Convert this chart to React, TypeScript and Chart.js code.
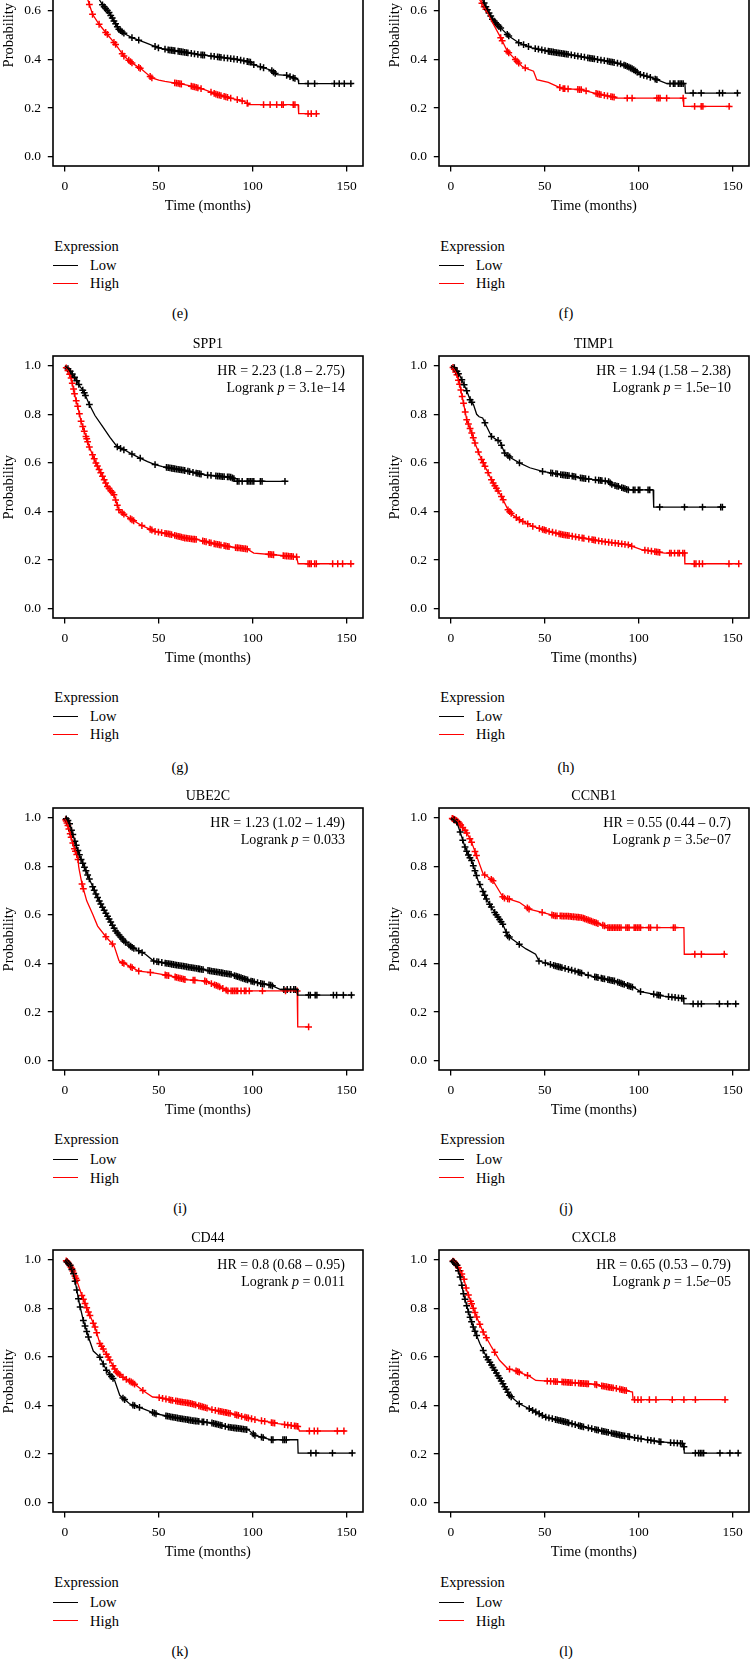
import React, { useEffect, useRef } from 'react';
import { Chart, registerables } from 'chart.js';
Chart.register(...registerables);

const FONT = '"Liberation Serif", "Times New Roman", Times, serif';
const RED = '#ff0000';
const BLACK = '#000000';

// axis ticks
const X_TICKS = [0, 50, 100, 150];
const Y_TICKS = [0, 0.2, 0.4, 0.6, 0.8, 1.0];
const X_TITLE = 'Time (months)';
const Y_TITLE = 'Probability';
const LEGEND_TITLE = 'Expression';
const LEGEND_LABELS = ['Low', 'High'];

// ---- panel (e) ----
const E_LOW_T = [0, 3, 6, 9, 12, 15, 18.2, 20, 23.5, 26, 28.7, 32, 35.7, 42.8, 49.8, 55, 60.3, 70.8, 78, 84.8, 92, 98.8, 100, 105.8, 110, 112.8, 118, 124.2, 124.5, 153.5];
const E_LOW_S = [1, 0.96, 0.9, 0.83, 0.76, 0.7, 0.648, 0.625, 0.593, 0.56, 0.524, 0.505, 0.49, 0.469, 0.448, 0.44, 0.434, 0.421, 0.414, 0.407, 0.4, 0.389, 0.38, 0.366, 0.355, 0.338, 0.335, 0.317, 0.301, 0.301];
const E_LOW_C = [20, 20.9, 21.7, 22.6, 23.5, 24.4, 25.2, 26.1, 27, 27.9, 28.7, 29.6, 30.5, 31.4, 35.7, 39.3, 48, 49.8, 53.3, 55, 55.9, 56.8, 57.6, 58.5, 60.3, 61.2, 62, 62.9, 63.8, 64.7, 65.5, 67.3, 69, 70.8, 72.5, 73.4, 74.3, 77.8, 79.5, 81.3, 82.2, 83.1, 84.8, 86.6, 88.3, 90, 91.8, 93.6, 95.3, 97.1, 98, 98.8, 100.6, 104.1, 105.8, 110.2, 111.1, 112, 118.1, 119.9, 121.6, 122.5, 129.5, 133, 143.5, 146.1, 148.8, 152.3];
const E_HIGH_T = [0, 2, 4, 6, 8, 10, 12.1, 14.7, 18.2, 22.6, 27, 31.4, 35.7, 41, 46.3, 50, 53.3, 63.8, 70, 74.3, 81.3, 88.3, 95.3, 97.1, 97.5, 124.2, 124.5, 134.7];
const E_HIGH_S = [1, 0.96, 0.91, 0.85, 0.78, 0.71, 0.648, 0.586, 0.545, 0.503, 0.462, 0.414, 0.386, 0.359, 0.324, 0.315, 0.31, 0.297, 0.285, 0.276, 0.255, 0.241, 0.228, 0.22, 0.214, 0.214, 0.177, 0.177];
const E_HIGH_C = [13, 14.7, 18.2, 21.7, 22.6, 26.1, 27, 30.5, 31.4, 34, 34.9, 35.7, 39.3, 40.1, 45.4, 46.3, 58.5, 59.4, 60.3, 61.2, 62, 67.3, 68.2, 69, 69.9, 70.8, 72.5, 77.8, 79.5, 80.4, 81.3, 82.2, 83.1, 84.8, 85.7, 86.6, 88.3, 91.8, 94.4, 97.1, 105.8, 109.3, 112.8, 115.5, 116.3, 121.6, 122.5, 129.5, 131.2, 133.9];

// ---- panel (f) ----
const F_LOW_T = [0, 3, 6, 9, 12, 15, 16.8, 19, 22.1, 25, 27.3, 30.8, 36.1, 43.1, 51.9, 62.4, 72.9, 83.4, 90, 93.9, 97, 101, 105, 109.7, 115, 124.6, 124.9, 153.5];
const F_LOW_S = [1, 0.96, 0.9, 0.83, 0.76, 0.69, 0.648, 0.61, 0.566, 0.54, 0.524, 0.497, 0.469, 0.448, 0.434, 0.421, 0.407, 0.393, 0.383, 0.372, 0.36, 0.338, 0.33, 0.317, 0.301, 0.301, 0.262, 0.262];
const F_LOW_C = [17.7, 18.6, 19.4, 20.3, 21.2, 22.1, 23, 23.8, 24.7, 25.6, 26.5, 30, 30.8, 36.1, 38.7, 41.3, 44.9, 46.6, 48.4, 50.1, 51.9, 52.7, 53.6, 54.5, 55.4, 56.2, 57.1, 58, 58.9, 59.8, 60.6, 61.5, 62.4, 64.1, 65.9, 67.6, 69.4, 71.1, 72.9, 73.8, 74.6, 75.5, 76.4, 78.1, 79.9, 81.7, 83.4, 84.3, 85.2, 86, 86.9, 88.7, 90.4, 92.2, 93, 93.9, 94.8, 95.7, 96.5, 97.4, 98.3, 99.2, 100.9, 102.7, 104.4, 106.2, 108.8, 109.7, 116.7, 118.5, 119.3, 121.1, 122, 122.8, 123.7, 129, 133.3, 143, 144.7, 152.6];
const F_HIGH_T = [0, 3, 6, 9, 12, 15.1, 18.6, 22.1, 26.5, 30, 34.3, 37.8, 41, 44, 45.7, 51.9, 57.1, 60, 69.4, 76.4, 80, 86.9, 87.5, 123.7, 124, 149.1];
const F_HIGH_S = [1, 0.96, 0.9, 0.82, 0.72, 0.648, 0.607, 0.552, 0.49, 0.434, 0.4, 0.372, 0.36, 0.352, 0.317, 0.306, 0.287, 0.28, 0.276, 0.262, 0.255, 0.245, 0.241, 0.241, 0.207, 0.207];
const F_HIGH_C = [16.5, 17.7, 18.6, 26.5, 27.3, 30, 30.8, 34.3, 35.2, 36.1, 39.6, 58, 59.8, 60.6, 62.4, 67.6, 68.5, 69.4, 72, 77.3, 78.1, 79, 79.9, 81.7, 83.4, 85.2, 86, 86.9, 93.9, 96.5, 109.7, 110.6, 111.4, 114.9, 123.7, 129.8, 133.3, 134.2, 148.2];

// ---- panel (g) SPP1 ----
const G_LOW_T = [0, 2, 4, 6, 8, 10, 13, 16, 20, 24, 28, 32, 36, 40, 44, 48, 52, 56, 60, 65, 70, 75, 80, 85, 88, 90, 90.5, 118];
const G_LOW_S = [1, 0.985, 0.965, 0.942, 0.915, 0.894, 0.84, 0.795, 0.75, 0.705, 0.665, 0.652, 0.635, 0.62, 0.605, 0.593, 0.585, 0.579, 0.574, 0.567, 0.558, 0.55, 0.547, 0.543, 0.542, 0.535, 0.524, 0.524];
const G_LOW_C = [1.6, 2.8, 3.9, 5.1, 6.3, 7.4, 9.5, 10.3, 10.9, 13, 27.9, 29.6, 31.4, 35.7, 40.1, 48, 54.1, 55, 55.9, 56.8, 57.6, 58.5, 59.4, 60.3, 61.2, 62, 62.9, 63.8, 65.5, 66.4, 68.2, 69.9, 70.8, 71.7, 72.5, 76, 77.8, 80.4, 81.3, 82.2, 83.1, 83.9, 84.8, 86.6, 87.4, 88.3, 89.2, 90, 91.8, 92.7, 94.4, 97.1, 98, 98.8, 99.7, 100.6, 104.1, 105, 117.2];
const G_HIGH_T = [0, 2, 3.3, 4.6, 5.5, 6.8, 8.6, 11.2, 13, 16.5, 20, 22.6, 26.1, 28.7, 32, 35.7, 41, 48, 56.8, 63.8, 70.8, 79.6, 88.3, 97, 100.6, 111, 123.4, 124.2, 154];
const G_HIGH_S = [1, 0.975, 0.949, 0.904, 0.87, 0.833, 0.771, 0.709, 0.665, 0.6, 0.545, 0.503, 0.469, 0.407, 0.385, 0.366, 0.342, 0.318, 0.305, 0.291, 0.284, 0.267, 0.254, 0.246, 0.229, 0.222, 0.213, 0.185, 0.185];
const G_HIGH_C = [0.7, 1.6, 2.5, 3.3, 3.9, 4.6, 5.1, 6, 6.8, 7.7, 8.6, 9.5, 10.3, 11.2, 11.6, 12.1, 13, 14.7, 15.6, 16.5, 17.3, 18.2, 19.1, 20, 20.9, 21.7, 22.6, 23.5, 24.4, 25.2, 26.1, 27, 27.9, 28.7, 30.5, 31.4, 34.9, 35.7, 36.6, 41, 45.4, 46.3, 48, 49.8, 51.5, 53.3, 54.1, 55, 55.9, 56.8, 58.5, 59.4, 60.3, 61.2, 62, 62.9, 63.8, 64.7, 65.5, 66.4, 67.3, 68.2, 69, 69.9, 73.4, 74.3, 75.2, 76.9, 77.8, 79.5, 80.4, 81.3, 82.2, 83.1, 84.8, 85.7, 86.6, 87.4, 90.9, 91.8, 92.7, 93.6, 94.4, 95.3, 96.2, 97.1, 108.5, 109.3, 110.2, 111.1, 116.3, 117.2, 118.1, 119, 119.9, 120.7, 121.6, 123.4, 129.5, 130.4, 131.2, 133, 133.9, 142.6, 145.3, 147.9, 152.3];

// ---- panel (h) TIMP1 ----
const H_LOW_T = [0, 1.5, 3.2, 5, 7, 8.5, 10.2, 12, 13.7, 15, 16.9, 19, 21.6, 24, 26, 28.6, 32, 36.5, 42, 48.8, 54, 59.4, 65, 69.9, 77, 83.9, 86, 89.2, 94.5, 107.7, 108, 146.3];
const H_LOW_S = [1, 0.995, 0.977, 0.955, 0.922, 0.895, 0.86, 0.84, 0.8, 0.79, 0.785, 0.75, 0.709, 0.697, 0.689, 0.641, 0.62, 0.6, 0.58, 0.565, 0.558, 0.551, 0.545, 0.537, 0.53, 0.524, 0.51, 0.503, 0.489, 0.489, 0.418, 0.418];
const H_LOW_C = [1.8, 3.2, 4, 5.8, 7, 8.4, 10.2, 11.1, 18.1, 21.6, 25.1, 26.9, 28.6, 30.4, 31.3, 36.5, 48.8, 53.2, 54.1, 55.9, 56.7, 58.5, 59.4, 60.2, 61.1, 62, 62.9, 64.6, 65.5, 66.4, 69, 69.9, 70.8, 71.7, 73.4, 77, 78.7, 79.6, 80.4, 82.2, 84, 84.8, 85.7, 87.4, 88.4, 89.2, 91, 91.9, 92.7, 93.6, 94.5, 97.1, 98, 99.8, 100.6, 105, 105.9, 111.2, 124.4, 134, 143.7, 144.6];
const H_HIGH_T = [0, 1.5, 3.2, 4.9, 6.7, 8.4, 11.1, 12.8, 15.5, 19, 22.5, 26.9, 30.4, 33, 36.5, 43.6, 52.3, 59.4, 69.9, 80.5, 94.5, 97, 101.5, 113.8, 124.4, 124.6, 153.3];
const H_HIGH_S = [1, 0.99, 0.963, 0.915, 0.846, 0.778, 0.723, 0.682, 0.627, 0.572, 0.517, 0.462, 0.407, 0.385, 0.366, 0.339, 0.318, 0.305, 0.291, 0.277, 0.263, 0.255, 0.243, 0.229, 0.229, 0.185, 0.185];
const H_HIGH_C = [1.1, 1.8, 2.5, 3.2, 4, 4.6, 5.3, 6, 6.7, 7.6, 8.4, 9.3, 10.2, 11.1, 11.9, 12.8, 14.6, 16.3, 17.2, 18.1, 19.8, 21.6, 22.5, 23.4, 24.2, 25.1, 26.9, 27.8, 30.4, 31.3, 32.1, 34.8, 36.5, 38.3, 40.9, 43.6, 47.1, 48.8, 49.7, 50.6, 52.3, 54.1, 55.9, 57.6, 58.5, 59.4, 60.2, 61.1, 62, 62.9, 64.6, 66.4, 68.2, 69.9, 70.8, 73.4, 75.2, 76.1, 76.9, 78.7, 80.4, 82.2, 84, 85.7, 87.5, 89.2, 91, 92.7, 94.5, 96.3, 103.3, 105, 106.8, 108.6, 109.4, 110.3, 111.2, 116.5, 117.3, 119.1, 120.9, 121.7, 123.5, 124.4, 129.6, 130.5, 132.3, 134, 148.1, 153.3];

// ---- panel (i) UBE2C ----
const I_LOW_T = [0, 1.5, 2.5, 4.6, 6.9, 8.5, 10.4, 13, 16.5, 20, 23.5, 27, 31.4, 35.8, 42.9, 47.3, 56.9, 67.5, 78, 88.5, 99, 104, 109.6, 114.9, 123.7, 124, 153.5];
const I_LOW_S = [1, 0.99, 0.975, 0.92, 0.865, 0.83, 0.796, 0.748, 0.686, 0.631, 0.583, 0.534, 0.493, 0.466, 0.438, 0.41, 0.397, 0.383, 0.369, 0.355, 0.328, 0.318, 0.311, 0.293, 0.293, 0.27, 0.27];
const I_LOW_C = [0.7, 1.6, 2.5, 3.5, 4.2, 5.3, 6, 6.9, 7.7, 8.6, 9.5, 10.4, 11.2, 12.1, 13, 14.8, 15.6, 16.5, 17.4, 18.3, 19.1, 20, 20.9, 21.8, 22.7, 23.5, 24.4, 25.3, 26.2, 27, 27.9, 28.8, 29.7, 30.6, 31.4, 32.3, 34.1, 35, 35.8, 36.7, 39.3, 41.1, 47.3, 49, 49.9, 51.6, 53.4, 54.3, 55.2, 56, 56.9, 57.8, 58.7, 59.5, 60.4, 61.3, 62.2, 63.1, 63.9, 64.8, 65.7, 66.6, 67.5, 68.3, 69.2, 70.1, 71, 71.8, 72.7, 73.6, 76.2, 77.1, 78, 78.9, 79.7, 80.6, 81.5, 82.4, 83.3, 84.1, 85, 85.9, 86.8, 87.7, 88.5, 90.3, 91.2, 92, 92.9, 93.8, 94.7, 95.6, 96.4, 97.3, 99.1, 99.9, 100.8, 102.6, 104.3, 105.2, 106.1, 108.7, 109.6, 110.5, 116.6, 118.4, 120.2, 121.9, 122.8, 129.8, 130.7, 133.3, 134.2, 143, 144.7, 148.3, 152.6];
const I_HIGH_T = [0, 1.6, 3.3, 5.1, 6.9, 7.3, 7.7, 9.1, 11.6, 14.8, 17.4, 21.8, 26.2, 28.8, 34.1, 39.3, 46.4, 56.9, 64, 74.5, 81.5, 86.8, 123.7, 124, 129.8];
const I_HIGH_S = [1, 0.968, 0.92, 0.872, 0.837, 0.8, 0.782, 0.727, 0.658, 0.603, 0.554, 0.51, 0.473, 0.411, 0.39, 0.369, 0.362, 0.348, 0.334, 0.328, 0.307, 0.287, 0.287, 0.139, 0.139];
const I_HIGH_C = [0.4, 0.7, 1.1, 1.6, 2.1, 2.8, 3.3, 4.2, 5.1, 5.6, 6.3, 7, 9.1, 9.8, 21.8, 25.3, 30.6, 31.4, 35, 35.8, 39.3, 45.5, 53.4, 54.3, 55.2, 58.7, 59.5, 60.4, 61.3, 62.2, 63.1, 63.9, 68.3, 69.2, 74.5, 75.4, 78, 79.7, 80.6, 81.5, 82.4, 84.1, 85.9, 86.8, 88.5, 89.4, 90.3, 91.2, 92, 93.8, 95.6, 96.4, 98.2, 105.2, 117.5, 123.7, 129.8];

// ---- panel (j) CCNB1 ----
const J_LOW_T = [0, 2, 3.1, 4.9, 7.5, 9, 11, 14.5, 18.9, 23.3, 27.6, 30.2, 36.4, 40, 45.1, 46.9, 55.6, 66.1, 74.8, 87.1, 97.6, 101, 113.3, 123.8, 124.1, 153.5];
const J_LOW_S = [1, 0.99, 0.982, 0.941, 0.879, 0.85, 0.824, 0.741, 0.665, 0.61, 0.562, 0.514, 0.479, 0.46, 0.438, 0.41, 0.39, 0.369, 0.348, 0.328, 0.3, 0.284, 0.266, 0.256, 0.234, 0.234];
const J_LOW_C = [1.7, 3.1, 4.9, 6.3, 7.5, 8.4, 9.3, 10.1, 11, 11.9, 12.8, 13.6, 15.4, 17.1, 18, 18.9, 20.6, 21.5, 23.3, 24.1, 25, 25.9, 26.7, 27.6, 29.4, 30.2, 31.1, 36.4, 46.9, 50.3, 53, 54.7, 55.6, 56.5, 57.3, 58.2, 59.1, 60.8, 62.6, 64.3, 66.1, 67.8, 68.7, 69.6, 73.1, 76.6, 77.4, 78.3, 80.1, 80.9, 81.8, 83.6, 84.4, 85.3, 86.2, 87.1, 88.8, 89.7, 90.6, 91.4, 92.3, 94.1, 94.9, 95.8, 96.7, 101, 108, 109.8, 110.7, 111.5, 115.9, 117.7, 119.4, 121.2, 122.9, 123.8, 129, 131.6, 133.4, 143, 147.4, 151.7];
const J_HIGH_T = [0, 2, 4, 7.5, 9, 11, 13.6, 17.1, 20, 22.4, 26.7, 28, 31.1, 36.4, 41.6, 48.6, 55.6, 62, 69.6, 76.6, 81.8, 82.5, 124.1, 124.3, 146.5];
const J_HIGH_S = [1, 0.992, 0.982, 0.948, 0.93, 0.899, 0.844, 0.769, 0.755, 0.741, 0.686, 0.67, 0.665, 0.652, 0.624, 0.61, 0.596, 0.595, 0.589, 0.569, 0.555, 0.548, 0.548, 0.438, 0.438];
const J_HIGH_C = [0.7, 1, 1.4, 1.7, 2.1, 2.4, 2.8, 3.1, 3.8, 4.5, 5.2, 6.3, 7.5, 8.4, 10.1, 11, 12.8, 13.6, 18, 21.5, 22.4, 27.6, 28.5, 30.2, 31.1, 40.7, 41.6, 48.6, 53.8, 54.7, 55.6, 56.5, 58.2, 59.1, 60, 60.8, 61.7, 62.6, 63.5, 64.3, 65.2, 66.1, 67, 67.8, 68.7, 69.6, 70.5, 71.3, 72.2, 73.1, 74, 74.8, 75.7, 76.6, 77.4, 78.3, 80.9, 81.8, 83.6, 84.4, 85.3, 86.2, 87.1, 87.9, 88.8, 89.7, 90.6, 93.2, 94.1, 94.9, 97.6, 98.4, 99.3, 100.2, 101, 105.4, 106.3, 109.8, 118.5, 119.4, 129.9, 133.4, 145.6];

// ---- panel (k) CD44 ----
const K_LOW_T = [0, 2.8, 4.6, 6, 7.7, 9.8, 12.5, 15.1, 18.6, 22.1, 26.5, 29.2, 34.4, 41.5, 48.5, 57.3, 67.8, 78.3, 87.1, 97.7, 101.2, 110, 124, 124.2, 153.5];
const K_LOW_S = [1, 0.977, 0.942, 0.888, 0.819, 0.75, 0.682, 0.624, 0.599, 0.545, 0.503, 0.442, 0.407, 0.387, 0.366, 0.352, 0.338, 0.328, 0.311, 0.3, 0.277, 0.259, 0.259, 0.204, 0.204];
const K_LOW_C = [1.1, 1.9, 2.8, 3.7, 4.6, 5.4, 6.3, 7.2, 8.1, 9.8, 10.7, 11.6, 12.5, 18.6, 20.4, 22.1, 23.9, 24.8, 25.6, 30.9, 31.8, 36.2, 37.1, 39.7, 46.7, 47.6, 48.5, 53.8, 54.6, 55.5, 56.4, 57.3, 58.1, 59, 59.9, 60.8, 61.7, 62.5, 63.4, 64.3, 65.2, 66, 66.9, 67.8, 68.7, 69.6, 70.4, 71.3, 73.1, 73.9, 75.7, 78.3, 79.2, 80.1, 80.9, 81.8, 82.7, 83.6, 85.4, 87.1, 88, 88.9, 89.8, 90.6, 91.5, 92.4, 93.3, 94.1, 95, 95.9, 96.8, 100.3, 101.2, 104.7, 105.6, 110, 110.8, 116.1, 117, 117.9, 131, 133.7, 142.5, 153];
const K_HIGH_T = [0, 1.5, 3.7, 6.3, 9, 12.5, 16, 18.6, 23, 27.4, 31.8, 36.2, 41.5, 46.7, 50, 57.3, 67.8, 78.3, 88.9, 95.9, 101.2, 113.5, 124, 124.9, 149.5];
const K_HIGH_S = [1, 0.99, 0.963, 0.915, 0.853, 0.785, 0.723, 0.655, 0.6, 0.538, 0.511, 0.493, 0.462, 0.435, 0.433, 0.421, 0.407, 0.383, 0.366, 0.352, 0.342, 0.325, 0.314, 0.295, 0.295];
const K_HIGH_C = [0.7, 1.1, 1.6, 2.1, 2.6, 3.2, 3.7, 4.2, 4.7, 5.3, 5.8, 6.3, 9, 9.8, 10.7, 11.6, 12.5, 13.3, 15.1, 16, 16.9, 18.6, 19.5, 20.4, 22.1, 23, 23.9, 25.6, 26.5, 27.4, 28.3, 29.2, 30.9, 32.7, 34.4, 35.3, 36.2, 37.1, 41.5, 50.2, 52, 53.8, 55.5, 56.4, 57.3, 59, 59.9, 60.8, 61.7, 62.5, 63.4, 64.3, 65.2, 66, 66.9, 67.8, 68.7, 69.6, 71.3, 72.2, 73.1, 73.9, 74.8, 75.7, 78.3, 80.1, 81.8, 82.7, 83.6, 84.5, 85.4, 86.2, 87.1, 88, 90.6, 91.5, 92.4, 94.1, 95.9, 96.8, 97.7, 99.4, 101.2, 104.7, 106.4, 110, 110.8, 111.7, 117, 118.7, 120.5, 122.3, 123.1, 124, 130.2, 132.8, 134.6, 145.1, 148.6];

// ---- panel (l) CXCL8 ----
const L_LOW_T = [0, 1.5, 3.2, 4.9, 6.7, 9.3, 11.9, 15.4, 18.9, 23.3, 27.7, 31.2, 36.4, 43.5, 50.5, 59.2, 69.7, 80.3, 90.8, 101.3, 111.8, 124, 124.3, 153.8];
const L_LOW_S = [1, 0.99, 0.977, 0.929, 0.86, 0.785, 0.723, 0.655, 0.6, 0.545, 0.49, 0.442, 0.407, 0.38, 0.352, 0.336, 0.314, 0.295, 0.277, 0.263, 0.25, 0.243, 0.204, 0.204];
const L_LOW_C = [1.1, 1.8, 2.5, 3.2, 4, 4.9, 5.8, 6.7, 7.5, 8.4, 9.3, 10.2, 11, 11.9, 12.8, 13.7, 17.2, 18.9, 19.8, 20.7, 21.6, 22.4, 23.3, 24.2, 25.1, 25.9, 26.8, 27.7, 28.6, 29.4, 30.3, 31.2, 32.1, 36.4, 41.7, 43.5, 45.2, 47, 48.7, 50.5, 52.2, 54, 55.7, 56.6, 57.5, 58.4, 59.2, 60.1, 61, 61.9, 62.7, 64.5, 66.2, 68, 68.9, 69.7, 70.6, 73.2, 75, 76.7, 77.6, 78.5, 80.3, 81.1, 82, 82.9, 83.8, 85.5, 86.4, 87.3, 88.1, 89, 89.9, 90.8, 91.6, 92.5, 94.3, 95.1, 97.8, 99.6, 101.3, 104.8, 106.5, 108.3, 110.9, 111.8, 117, 118.8, 120.6, 122.3, 123.2, 124.1, 130.2, 131.9, 132.8, 133.7, 134.6, 143.3, 148.6, 153];
const L_HIGH_T = [0, 2, 4, 6.7, 8.4, 11, 13.7, 17.2, 21.6, 25.9, 30.3, 34, 38.2, 42, 45.2, 59.2, 76.7, 80, 89, 96.7, 97, 146.5];
const L_HIGH_S = [1, 0.99, 0.967, 0.929, 0.874, 0.819, 0.764, 0.702, 0.641, 0.586, 0.551, 0.545, 0.531, 0.52, 0.503, 0.497, 0.487, 0.481, 0.469, 0.455, 0.424, 0.424];
const L_HIGH_C = [1.1, 1.8, 2.5, 3.2, 4, 4.9, 5.8, 7, 8.1, 9.3, 10.5, 11, 11.9, 12.8, 13.7, 15.4, 17.2, 18.9, 23.3, 31.2, 34.7, 35.6, 36.4, 40.8, 51.3, 53.1, 54.8, 55.7, 56.6, 59.2, 60.1, 61, 61.9, 62.7, 63.6, 64.5, 66.2, 68, 68.9, 69.7, 70.6, 71.5, 72.4, 73.2, 76.7, 77.6, 80.3, 81.1, 82, 82.9, 83.8, 84.6, 85.5, 86.4, 88.1, 89.9, 90.8, 91.6, 92.5, 93.4, 97.8, 99.6, 101.3, 105.7, 109.2, 117.9, 124.1, 130.2, 146];

type Seg = { t: string; i?: boolean };

function survAt(ts: number[], ss: number[], t: number): number {
  if (t <= ts[0]) return ss[0];
  for (let k = 1; k < ts.length; k++) {
    if (t <= ts[k]) {
      const t0 = ts[k - 1];
      const t1 = ts[k];
      if (t1 === t0) return ss[k];
      return ss[k - 1] + ((ss[k] - ss[k - 1]) * (t - t0)) / (t1 - t0);
    }
  }
  return ss[ss.length - 1];
}

const decorPlugin = {
  id: 'kmDecor',
  afterDraw(chart: any, _args: any, opts: any) {
    const { ctx, chartArea: a } = chart;
    ctx.save();
    ctx.strokeStyle = '#000';
    ctx.lineWidth = 1.6;
    const l = Math.round(a.left);
    const r = Math.round(a.right);
    const t = Math.round(a.top);
    const b = Math.round(a.bottom);
    ctx.strokeRect(l, t, r - l, b - t);
    ctx.fillStyle = '#000';
    ctx.textBaseline = 'middle';
    if (opts.gene) {
      ctx.font = `14px ${FONT}`;
      ctx.textAlign = 'center';
      ctx.fillText(opts.gene, (a.left + a.right) / 2, a.top - 11.5);
    }
    const lines: Seg[][] = opts.lines || [];
    lines.forEach((segs, li) => {
      const y = a.top + 15.5 + li * 17.2;
      let w = 0;
      segs.forEach((s) => {
        ctx.font = `${s.i ? 'italic ' : ''}14px ${FONT}`;
        w += ctx.measureText(s.t).width;
      });
      let x = a.right - 17.5 - w;
      ctx.textAlign = 'left';
      segs.forEach((s) => {
        ctx.font = `${s.i ? 'italic ' : ''}14px ${FONT}`;
        ctx.fillText(s.t, x, y);
        x += ctx.measureText(s.t).width;
      });
    });
    ctx.restore();
  },
};

type PanelDef = {
  gene: string;
  lines: Seg[][];
  lowT: number[]; lowS: number[]; lowC: number[];
  highT: number[]; highS: number[]; highC: number[];
  left: number; top: number; yTitlePad: number;
};

const CW = 368;
const CH = 341;

function KMPanel({ p }: { p: PanelDef }) {
  const ref = useRef<HTMLCanvasElement>(null);
  useEffect(() => {
    const line = (ts: number[], ss: number[]) => ts.map((t, k) => ({ x: t, y: ss[k] }));
    const cens = (cs: number[], ts: number[], ss: number[]) => cs.map((t) => ({ x: t, y: survAt(ts, ss, t) }));
    const tickFont = { family: FONT, size: 13.5 };
    const titleFont = { family: FONT, size: 14.5 };
    const chart = new Chart(ref.current as HTMLCanvasElement, {
      type: 'scatter',
      data: {
        datasets: [
          { label: 'Low', data: line(p.lowT, p.lowS), showLine: true, borderColor: BLACK, borderWidth: 1.3, pointRadius: 0, fill: false, tension: 0 },
          { label: 'High', data: line(p.highT, p.highS), showLine: true, borderColor: RED, borderWidth: 1.3, pointRadius: 0, fill: false, tension: 0 },
          { label: 'Low censored', data: cens(p.lowC, p.lowT, p.lowS), showLine: false, pointStyle: 'cross', pointRadius: 3.4, borderColor: BLACK, backgroundColor: BLACK, borderWidth: 1.5 },
          { label: 'High censored', data: cens(p.highC, p.highT, p.highS), showLine: false, pointStyle: 'cross', pointRadius: 3.4, borderColor: RED, backgroundColor: RED, borderWidth: 1.5 },
        ],
      } as any,
      options: {
        animation: false,
        responsive: false,
        events: [],
        layout: { padding: { left: 0, right: 1.3, top: 30, bottom: 0.6 } },
        plugins: {
          legend: { display: false },
          tooltip: { enabled: false },
          title: { display: false },
          kmDecor: { gene: p.gene, lines: p.lines },
        } as any,
        scales: {
          x: {
            type: 'linear',
            min: -6.2,
            max: 158.5,
            afterBuildTicks: (ax: any) => { ax.ticks = X_TICKS.map((v) => ({ value: v })); },
            afterFit: (ax: any) => { ax.height = 48; },
            grid: { drawOnChartArea: false, drawTicks: true, tickLength: 5, color: '#000', lineWidth: 1.3 },
            border: { display: false },
            ticks: { color: '#000', font: tickFont, padding: 7, autoSkip: false, maxRotation: 0, callback: (v: any) => String(v) },
            title: { display: true, text: X_TITLE, color: '#000', font: titleFont, padding: { top: 0, bottom: 0 } },
          },
          y: {
            type: 'linear',
            min: -0.04,
            max: 1.04,
            afterBuildTicks: (ax: any) => { ax.ticks = Y_TICKS.map((v) => ({ value: v })); },
            afterFit: (ax: any) => { ax.width = 53.3; },
            grid: { drawOnChartArea: false, drawTicks: true, tickLength: 5.5, color: '#000', lineWidth: 1.3 },
            border: { display: false },
            ticks: { color: '#000', font: tickFont, padding: 6.8, autoSkip: false, callback: (v: any) => Number(v).toFixed(1) },
            title: { display: true, text: Y_TITLE, color: '#000', font: titleFont, padding: { top: p.yTitlePad, bottom: 0 } },
          },
        },
      } as any,
      plugins: [decorPlugin],
    });
    return () => chart.destroy();
  }, [p]);
  return (
    <canvas
      ref={ref}
      width={CW}
      height={CH}
      style={{ position: 'absolute', left: p.left, top: p.top, width: CW, height: CH }}
    />
  );
}

function Legend({ x, yExp, yLow, yHigh, yLab, lab, labX }: { x: number; yExp: number; yLow: number; yHigh: number; yLab: number; lab: string; labX: number }) {
  const txt = (s: string, left: number, cy: number, extra: any = {}) => (
    <div style={{ position: 'absolute', left, top: cy - 9, height: 18, lineHeight: '18px', fontSize: 14.5, whiteSpace: 'nowrap', color: '#000', ...extra }}>{s}</div>
  );
  return (
    <>
      {txt(LEGEND_TITLE, x + 1, yExp)}
      <div style={{ position: 'absolute', left: x, top: yLow - 0.5, width: 24.4, height: 0, borderTop: `1.4px solid ${BLACK}` }} />
      {txt(LEGEND_LABELS[0], x + 36.7, yLow)}
      <div style={{ position: 'absolute', left: x, top: yHigh - 0.5, width: 24.4, height: 0, borderTop: `1.4px solid ${RED}` }} />
      {txt(LEGEND_LABELS[1], x + 36.7, yHigh)}
      {txt(lab, labX - 30, yLab, { width: 60, textAlign: 'center' })}
    </>
  );
}

const pLine = (v: string): Seg[] => [{ t: 'Logrank ' }, { t: 'p', i: true }, { t: ` = ${v}` }];
const pLineE = (m: string, ex: string): Seg[] => [{ t: 'Logrank ' }, { t: 'p', i: true }, { t: ` = ${m}` }, { t: 'e', i: true }, { t: `\u2212${ex}` }];

const LX = 0;
const RX = 386;
const ROW_TOPS = [-126, 326, 778, 1220];

const PANELS: PanelDef[] = [
  { gene: '', lines: [], lowT: E_LOW_T, lowS: E_LOW_S, lowC: E_LOW_C, highT: E_HIGH_T, highS: E_HIGH_S, highC: E_HIGH_C, left: LX, top: ROW_TOPS[0], yTitlePad: 0.5 },
  { gene: '', lines: [], lowT: F_LOW_T, lowS: F_LOW_S, lowC: F_LOW_C, highT: F_HIGH_T, highS: F_HIGH_S, highC: F_HIGH_C, left: RX, top: ROW_TOPS[0], yTitlePad: 0 },
  { gene: 'SPP1', lines: [[{ t: 'HR = 2.23 (1.8 \u2013 2.75)' }], pLine('3.1e\u221214')], lowT: G_LOW_T, lowS: G_LOW_S, lowC: G_LOW_C, highT: G_HIGH_T, highS: G_HIGH_S, highC: G_HIGH_C, left: LX, top: ROW_TOPS[1], yTitlePad: 0.5 },
  { gene: 'TIMP1', lines: [[{ t: 'HR = 1.94 (1.58 \u2013 2.38)' }], pLine('1.5e\u221210')], lowT: H_LOW_T, lowS: H_LOW_S, lowC: H_LOW_C, highT: H_HIGH_T, highS: H_HIGH_S, highC: H_HIGH_C, left: RX, top: ROW_TOPS[1], yTitlePad: 0 },
  { gene: 'UBE2C', lines: [[{ t: 'HR = 1.23 (1.02 \u2013 1.49)' }], pLine('0.033')], lowT: I_LOW_T, lowS: I_LOW_S, lowC: I_LOW_C, highT: I_HIGH_T, highS: I_HIGH_S, highC: I_HIGH_C, left: LX, top: ROW_TOPS[2], yTitlePad: 0.5 },
  { gene: 'CCNB1', lines: [[{ t: 'HR = 0.55 (0.44 \u2013 0.7)' }], pLineE('3.5', '07')], lowT: J_LOW_T, lowS: J_LOW_S, lowC: J_LOW_C, highT: J_HIGH_T, highS: J_HIGH_S, highC: J_HIGH_C, left: RX, top: ROW_TOPS[2], yTitlePad: 0 },
  { gene: 'CD44', lines: [[{ t: 'HR = 0.8 (0.68 \u2013 0.95)' }], pLine('0.011')], lowT: K_LOW_T, lowS: K_LOW_S, lowC: K_LOW_C, highT: K_HIGH_T, highS: K_HIGH_S, highC: K_HIGH_C, left: LX, top: ROW_TOPS[3], yTitlePad: 0.5 },
  { gene: 'CXCL8', lines: [[{ t: 'HR = 0.65 (0.53 \u2013 0.79)' }], pLineE('1.5', '05')], lowT: L_LOW_T, lowS: L_LOW_S, lowC: L_LOW_C, highT: L_HIGH_T, highS: L_HIGH_S, highC: L_HIGH_C, left: RX, top: ROW_TOPS[3], yTitlePad: 0 },
];

const LEGEND_ROWS = [
  { yExp: 245.7, yLow: 265, yHigh: 283.3, yLab: 313.3, labs: ['(e)', '(f)'] },
  { yExp: 696.7, yLow: 716, yHigh: 734.3, yLab: 766.7, labs: ['(g)', '(h)'] },
  { yExp: 1139.3, yLow: 1159, yHigh: 1177.7, yLab: 1208.3, labs: ['(i)', '(j)'] },
  { yExp: 1581.7, yLow: 1602.3, yHigh: 1620.7, yLab: 1651, labs: ['(k)', '(l)'] },
];

export default function App() {
  return (
    <div style={{ position: 'absolute', left: 0, top: 0, width: 753, height: 1659, overflow: 'hidden', background: '#fff', fontFamily: FONT }}>
      {PANELS.map((p, k) => <KMPanel key={k} p={p} />)}
      {LEGEND_ROWS.map((r, k) => (
        <React.Fragment key={k}>
          <Legend x={53.3} yExp={r.yExp} yLow={r.yLow} yHigh={r.yHigh} yLab={r.yLab} lab={r.labs[0]} labX={180} />
          <Legend x={439.3} yExp={r.yExp} yLow={r.yLow} yHigh={r.yHigh} yLab={r.yLab} lab={r.labs[1]} labX={566} />
        </React.Fragment>
      ))}
    </div>
  );
}
